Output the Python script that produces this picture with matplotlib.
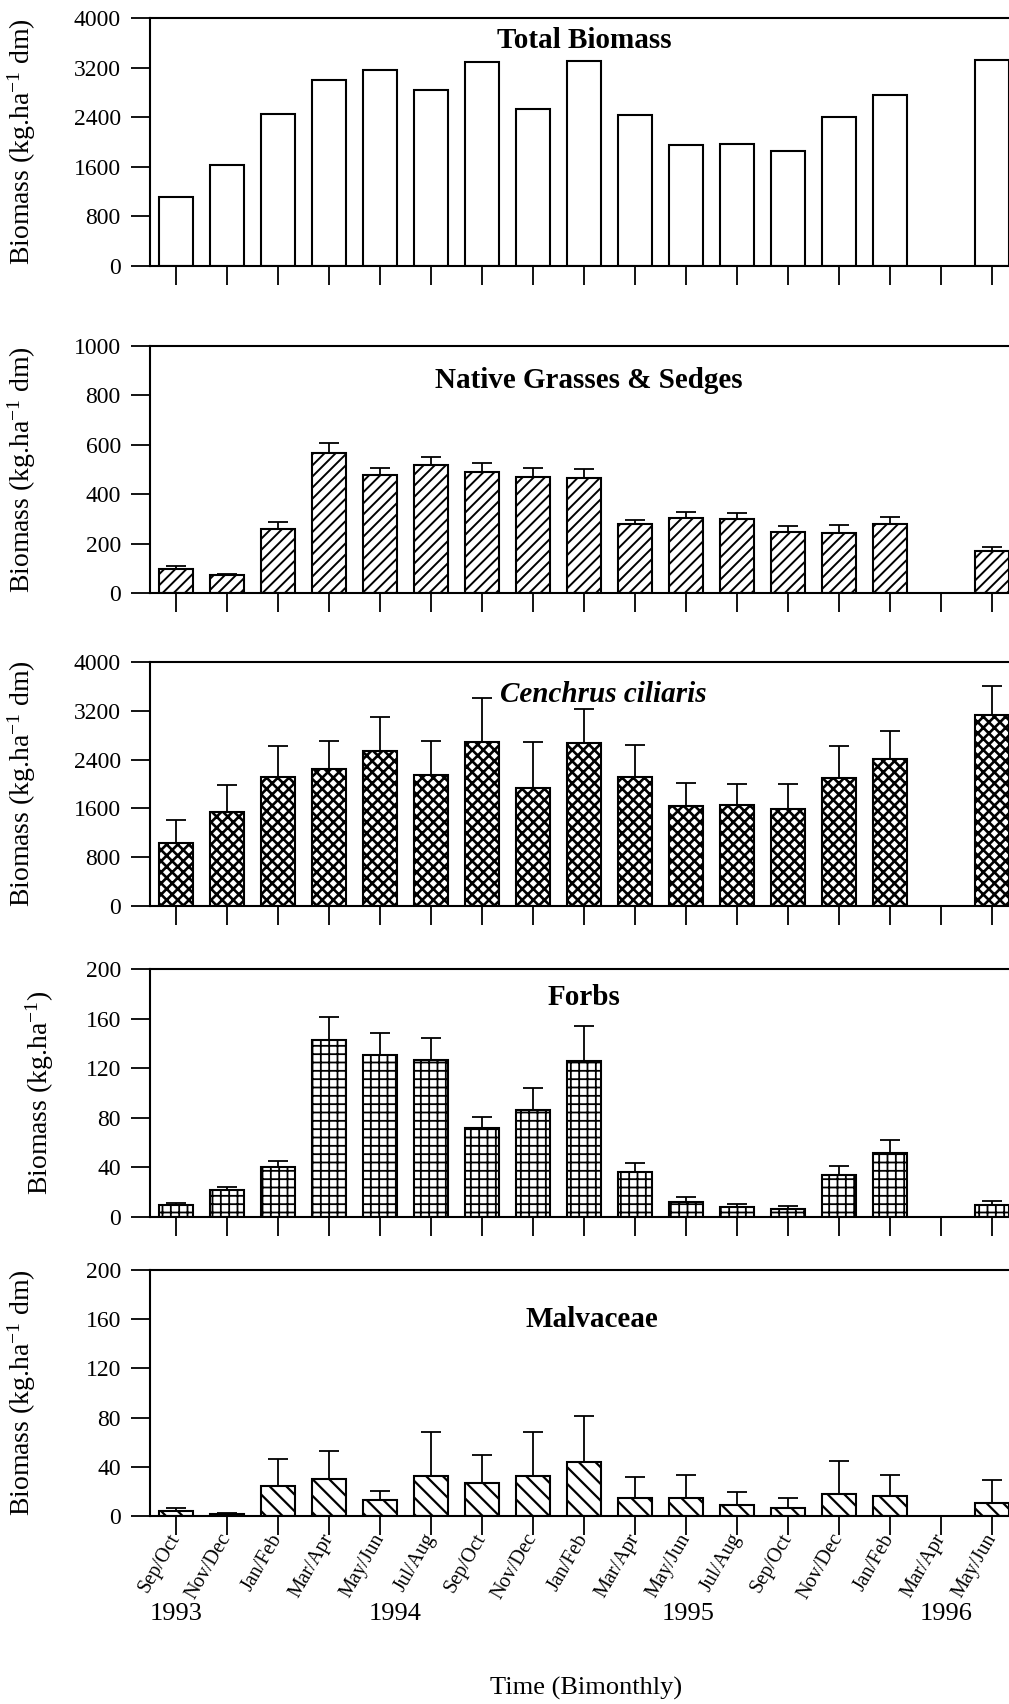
import numpy as np
import matplotlib
matplotlib.use("Agg")
import matplotlib.pyplot as plt
import matplotlib.transforms as mtransforms

plt.rcParams["font.family"] = ["Liberation Serif", "DejaVu Serif"]
plt.rcParams["mathtext.fontset"] = "custom"
plt.rcParams["mathtext.rm"] = "Liberation Serif"
plt.rcParams["mathtext.it"] = "Liberation Serif:italic"

# bimonthly sampling periods, Sep/Oct 1993 -> May/Jun 1996
periods = ["Sep/Oct", "Nov/Dec", "Jan/Feb", "Mar/Apr", "May/Jun", "Jul/Aug",
           "Sep/Oct", "Nov/Dec", "Jan/Feb", "Mar/Apr", "May/Jun", "Jul/Aug",
           "Sep/Oct", "Nov/Dec", "Jan/Feb", "Mar/Apr", "May/Jun"]
years = ["1993", "1994", "1995", "1996"]
year_pos = [0, 4.3, 10.05, 15.1]

nan = np.nan
total = [1120, 1630, 2450, 3000, 3160, 2840, 3290, 2530, 3310, 2440,
         1950, 1960, 1850, 2400, 2760, nan, 3320]

native = [97, 73, 259, 567, 478, 518, 490, 470, 465, 279,
          304, 300, 247, 243, 279, nan, 170]
native_se = [12, 4, 28, 40, 28, 33, 36, 36, 37, 17,
             24, 24, 24, 32, 29, nan, 16]

cenchrus = [1030, 1540, 2110, 2250, 2540, 2150, 2690, 1930, 2670, 2110,
            1640, 1650, 1590, 2100, 2410, nan, 3130]
cenchrus_se = [380, 440, 510, 450, 560, 550, 720, 760, 560, 530,
               370, 350, 410, 520, 460, nan, 480]

forbs = [9.7, 22, 40, 143, 131, 127, 72, 86, 126, 36,
         12, 8, 6.5, 34, 52, nan, 9.7]
forbs_se = [1.6, 2, 5, 18, 17, 17, 9, 18, 28, 7.5,
            4, 2.5, 2.5, 7, 10, nan, 3.3]

malv = [4, 2, 24, 30, 13, 32.5, 27, 32.5, 44, 14.6,
        14.6, 9, 6.5, 18, 16, nan, 10.5]
malv_se = [2.5, 0.5, 22, 23, 7, 35.5, 23, 35.5, 37, 17,
           18.4, 10.5, 8.5, 26.6, 17, nan, 18.5]

ylab = "Biomass (kg.ha$^{-1}$ dm)"
panels = [
    # values, se, ymax, step, hatch, hatch lw, title, title style, title xy, ylabel, label x(px), axes top/zero (px)
    (total, None, 4000, 800, "", 1.0, "Total Biomass", "normal", (8.0, 3640), ylab, 38, (18, 266)),
    (native, native_se, 1000, 200, "///", 1.4, "Native Grasses & Sedges", "normal", (8.1, 860), ylab, 38, (346, 593)),
    (cenchrus, cenchrus_se, 4000, 800, "xxx", 1.9, "Cenchrus ciliaris", "italic", (8.37, 3470), ylab, 38, (662, 906)),
    (forbs, forbs_se, 200, 40, "++", 1.3, "Forbs", "normal", (8.0, 177), "Biomass (kg.ha$^{-1}$)", 56, (969, 1217)),
    (malv, malv_se, 200, 40, "\\\\", 1.6, "Malvaceae", "normal", (8.16, 160), ylab, 38, (1270, 1516)),
]

W, H = 1009, 1704
fig = plt.figure(figsize=(W / 100, H / 100), dpi=100)
x = np.arange(len(periods))
left_px = 150
unit_px = 51.0
xmin = -26 / unit_px
xmax = xmin + (W - left_px) / unit_px

axes = []
for vals, se, ymax, step, hatch, hlw, title, tstyle, txy, ylabel, lab_px, (top, zero) in panels:
    ax = fig.add_axes([left_px / W, 1 - zero / H, (W - left_px) / W, (zero - top) / H])
    vals = np.array(vals, dtype=float)
    ok = ~np.isnan(vals)
    with plt.rc_context({"hatch.linewidth": hlw}):
        bars = ax.bar(x[ok], vals[ok], width=0.68, color="white", edgecolor="black",
                      linewidth=1.5, hatch=hatch, zorder=2)
    for b in bars:
        if hasattr(b, "set_hatch_linewidth"):
            b.set_hatch_linewidth(hlw)
    if se is not None:
        se = np.array(se, dtype=float)
        ax.errorbar(x[ok], vals[ok], yerr=[np.zeros(ok.sum()), se[ok]], fmt="none",
                    ecolor="black", elinewidth=1.3, capsize=7.5, capthick=1.3, zorder=3)

    ax.set_xlim(xmin, xmax)
    ax.set_ylim(0, ymax)
    ax.set_yticks(np.arange(0, ymax + 1, step))
    ax.set_xticks(x)
    ax.set_xticklabels([])
    ax.spines["right"].set_visible(False)
    for s in ("left", "top", "bottom"):
        ax.spines[s].set_linewidth(1.5)
    ax.tick_params(axis="both", direction="out", length=14, width=1.3, labelsize=17, pad=7)

    ax.text(txy[0], txy[1], title, ha="center", va="center", fontsize=21,
            fontweight="bold", fontstyle=tstyle)
    ax.set_ylabel(ylabel, fontsize=20)
    ax.yaxis.set_label_coords((lab_px - left_px) / (W - left_px), 0.5)
    axes.append(ax)

ax = axes[-1]
ax.set_xticklabels(periods, rotation=60, ha="right", va="center",
                   rotation_mode="anchor", fontsize=14.5)
ax.tick_params(axis="x", pad=0)

trans = mtransforms.blended_transform_factory(ax.transData, fig.transFigure)
for yr, pos in zip(years, year_pos):
    ax.text(pos, 1 - 1614 / H, yr, transform=trans, ha="center", va="center", fontsize=19)
fig.text(586 / W, 1 - 1688 / H, "Time (Bimonthly)", ha="center", va="center", fontsize=19)

fig.savefig("out.png", dpi=100)
